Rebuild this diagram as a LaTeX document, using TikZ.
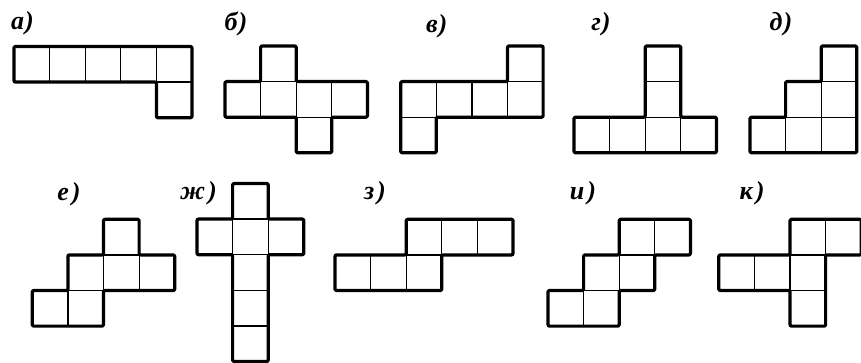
\documentclass[tikz,border=0pt]{standalone}
\usepackage{fontspec}
\setmainfont{Liberation Serif}
\begin{document}
\begin{tikzpicture}[x=1pt,y=-1pt,
  cellline/.style={line width=1.2pt,black},
  outline/.style={line width=3.2pt,black,line join=round,rounded corners=1.2pt},
  lbl/.style={inner sep=0pt,font=\fontsize{26}{26}\selectfont\bfseries\itshape}]
\useasboundingbox (0,0) rectangle (861,363);
\newcommand\netfig[4]{%
  \begin{scope}[xshift=#1pt,yshift=-#2pt,x=35.6pt,y=-35.6pt]
    \foreach \i/\j in {#3} \draw[cellline] (\i,\j) rectangle +(1,1);
    \draw[outline] #4 -- cycle;
  \end{scope}}
% row 1
\netfig{14}{46.5}{0/0,1/0,2/0,3/0,4/0,4/1}{(0,0)--(5,0)--(5,2)--(4,2)--(4,1)--(0,1)}
\netfig{225}{46}{1/0,0/1,1/1,2/1,3/1,2/2}{(1,0)--(2,0)--(2,1)--(4,1)--(4,2)--(3,2)--(3,3)--(2,3)--(2,2)--(0,2)--(0,1)--(1,1)}
\netfig{400.7}{46}{3/0,0/1,1/1,2/1,3/1,0/2}{(3,0)--(4,0)--(4,2)--(1,2)--(1,3)--(0,3)--(0,1)--(3,1)}
\netfig{574}{46}{2/0,2/1,0/2,1/2,2/2,3/2}{(2,0)--(3,0)--(3,2)--(4,2)--(4,3)--(0,3)--(0,2)--(2,2)}
\netfig{750}{46}{2/0,1/1,2/1,0/2,1/2,2/2}{(2,0)--(3,0)--(3,3)--(0,3)--(0,2)--(1,2)--(1,1)--(2,1)}
% row 2
\netfig{32.3}{219.3}{2/0,1/1,2/1,3/1,0/2,1/2}{(2,0)--(3,0)--(3,1)--(4,1)--(4,2)--(2,2)--(2,3)--(0,3)--(0,2)--(1,2)--(1,1)--(2,1)}
\netfig{197}{183.5}{1/0,0/1,1/1,2/1,1/2,1/3,1/4}{(1,0)--(2,0)--(2,1)--(3,1)--(3,2)--(2,2)--(2,5)--(1,5)--(1,2)--(0,2)--(0,1)--(1,1)}
\netfig{335}{219.3}{2/0,3/0,4/0,0/1,1/1,2/1}{(2,0)--(5,0)--(5,1)--(3,1)--(3,2)--(0,2)--(0,1)--(2,1)}
\netfig{548}{219.3}{2/0,3/0,1/1,2/1,0/2,1/2}{(2,0)--(4,0)--(4,1)--(3,1)--(3,2)--(2,2)--(2,3)--(0,3)--(0,2)--(1,2)--(1,1)--(2,1)}
\netfig{718.8}{219.3}{2/0,3/0,0/1,1/1,2/1,2/2}{(2,0)--(4,0)--(4,1)--(3,1)--(3,3)--(2,3)--(2,2)--(0,2)--(0,1)--(2,1)}
% labels
\node[lbl] (la) at (22.5,23) {а\kern1pt)};
\node[lbl] (lb) at (236,24) {б\kern1pt)};
\node[lbl] (lv) at (436.7,26) {в\kern1pt)};
\node[lbl] (lg) at (601,24) {г\kern1pt)};
\node[lbl] (ld) at (781,24) {д\kern1pt)};
\node[lbl] (le) at (69,194) {е\kern3pt)};
\node[lbl] (lzh) at (198.5,193) {ж\kern3pt)};
\node[lbl] (lz) at (375,193) {з\kern3pt)};
\node[lbl] (li) at (583,193) {и\kern3pt)};
\node[lbl] (lk) at (752,193) {к\kern3pt)};
\end{tikzpicture}
\end{document}
